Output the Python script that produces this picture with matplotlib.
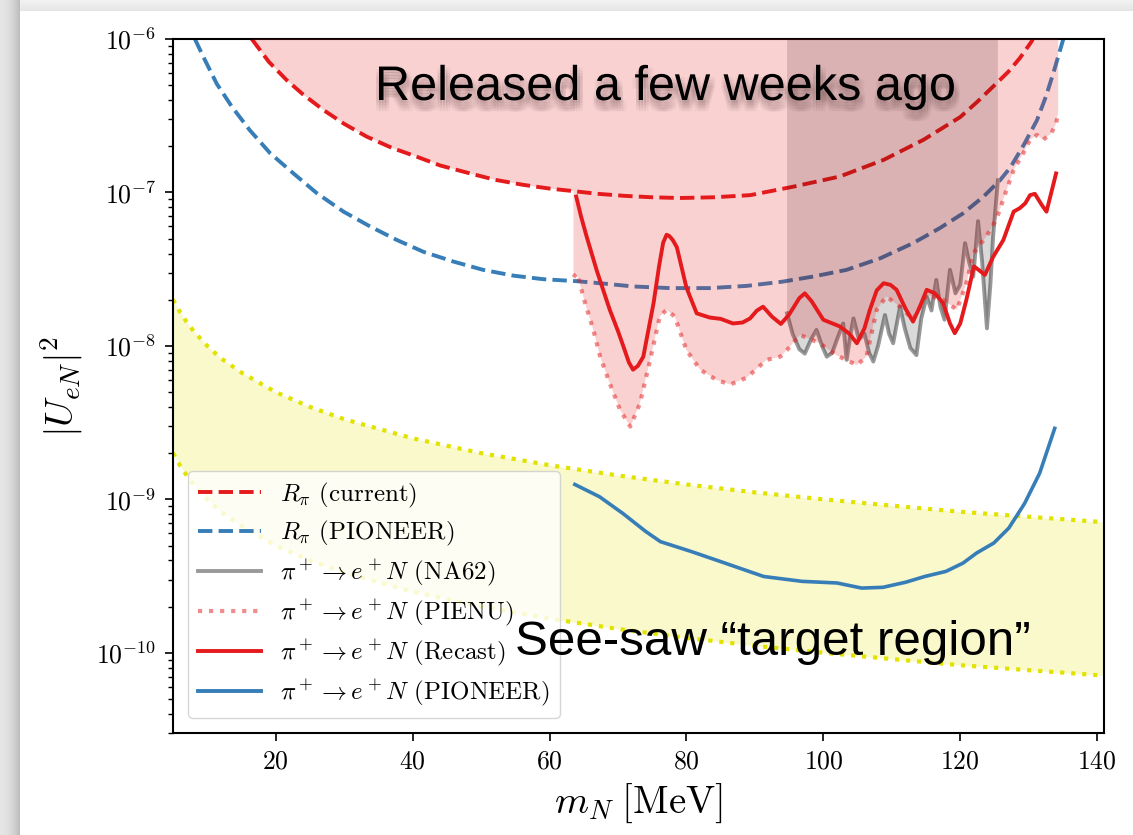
import numpy as np
import matplotlib
matplotlib.use("Agg")
import matplotlib.pyplot as plt
from matplotlib import patheffects as pe
from matplotlib.lines import Line2D

plt.rcParams["mathtext.fontset"] = "cm"
plt.rcParams["font.family"] = "serif"
plt.rcParams["font.serif"] = ["cmr10"]
plt.rcParams["axes.formatter.use_mathtext"] = True

# ---- R_pi (current) ----
rpi_cur_m = [16.5, 19, 21.6, 24, 27, 30, 33.3, 37, 40.6, 44, 48.4, 52, 56.2, 60, 63.5,
             67, 71, 75, 79, 84, 89.3, 95.6, 102.4, 108.8, 114.6, 120, 122.5, 124.8,
             127, 128.7, 130.4, 131.5]
rpi_cur_u2 = [1.0e-6, 7.1e-7, 5.4e-7, 4.35e-7, 3.44e-7, 2.8e-7, 2.31e-7, 1.95e-7, 1.71e-7,
              1.5e-7, 1.33e-7, 1.21e-7, 1.12e-7, 1.06e-7, 1.02e-7, 9.8e-8, 9.5e-8, 9.3e-8,
              9.2e-8, 9.3e-8, 9.6e-8, 1.09e-7, 1.27e-7, 1.63e-7, 2.2e-7, 3.1e-7, 3.9e-7,
              4.9e-7, 6.1e-7, 7.5e-7, 9.6e-7, 1.2e-6]

# ---- R_pi (PIONEER) ----
rpi_pio_m = [8.2, 9.4, 11.4, 13.6, 16.2, 19.2, 22.6, 26.0, 29.9, 33.8, 37.7, 41.6, 46.0,
             50.3, 54.7, 59.1, 64.0, 67.4, 72.2, 77.6, 83.4, 88.8, 94.0, 98.5, 103.4,
             108.3, 113.1, 117.0, 120.4, 123.4, 125.8, 127.3, 129.3, 131.2, 132.5, 133.6, 135.2]
rpi_pio_u2 = [1.0e-6, 7.7e-7, 5.1e-7, 3.62e-7, 2.55e-7, 1.8e-7, 1.33e-7, 9.9e-8, 7.5e-8,
              6.0e-8, 4.9e-8, 4.1e-8, 3.54e-8, 3.13e-8, 2.87e-8, 2.72e-8, 2.64e-8, 2.56e-8,
              2.44e-8, 2.38e-8, 2.38e-8, 2.46e-8, 2.62e-8, 2.83e-8, 3.13e-8, 3.72e-8,
              4.67e-8, 5.85e-8, 7.3e-8, 9.4e-8, 1.2e-7, 1.45e-7, 2.05e-7, 2.95e-7, 4.2e-7,
              6.0e-7, 1.05e-6]

# ---- pi+ -> e+ N (NA62) ----
na62_m = [94.7, 95.5, 96.5, 97.3, 98.2, 99.0, 99.8, 100.5, 101.3, 102.0, 102.9, 103.4,
          104.0, 104.4, 105.2, 106.0, 106.7, 107.3, 108.0, 109.0, 109.6, 110.2, 111.2,
          111.9, 112.7, 113.6, 114.3, 115.1, 115.8, 116.5, 117.1, 117.7, 118.5, 119.3,
          120.0, 120.7, 121.3, 121.9, 122.6, 123.2, 123.9, 124.4, 124.8, 125.5]
na62_u2 = [1.63e-8, 1.2e-8, 9.5e-9, 8.9e-9, 1.1e-8, 1.27e-8, 1.0e-8, 8.5e-9, 9.0e-9,
           1.1e-8, 1.4e-8, 8.1e-9, 1.2e-8, 1.51e-8, 1.1e-8, 1.2e-8, 9.0e-9, 7.9e-9, 1.0e-8,
           1.59e-8, 1.2e-8, 1.04e-8, 1.8e-8, 1.3e-8, 9.7e-9, 8.7e-9, 1.5e-8, 2.1e-8, 1.7e-8,
           2.69e-8, 1.8e-8, 1.48e-8, 3.13e-8, 2.2e-8, 2.5e-8, 4.67e-8, 3.5e-8, 2.83e-8,
           6.5e-8, 3.5e-8, 1.3e-8, 2.5e-8, 5.15e-8, 1.2e-7]

# ---- pi+ -> e+ N (PIENU) ----
pienu_m = [63.5, 64.0, 65.2, 66.4, 67.4, 68.8, 70.3, 71.8, 73.2, 74.7, 76.1, 77.1, 78.3,
           80.0, 82.0, 84.4, 86.4, 88.8, 91.7, 93.7, 94.7, 96.6, 99.5, 101.9, 104.9, 106.3,
           107.8, 109.2, 111.2, 113.1, 115.1, 117.5, 119.5, 120.9, 121.9, 123.8, 125.3,
           126.8, 127.8, 129.2, 130.2, 131.2, 132.1, 133.3, 134.0, 134.3]
pienu_u2 = [2.8e-8, 2.98e-8, 1.9e-8, 1.27e-8, 8.5e-9, 5.7e-9, 3.83e-9, 2.98e-9, 4.2e-9,
            8.1e-9, 1.55e-8, 1.72e-8, 1.55e-8, 9.4e-9, 7.0e-9, 6.0e-9, 5.6e-9, 6.2e-9,
            8.1e-9, 8.5e-9, 9.4e-9, 1.18e-8, 1.04e-8, 8.7e-9, 7.5e-9, 8.5e-9, 1.72e-8,
            2.1e-8, 1.8e-8, 1.48e-8, 2.15e-8, 2.0e-8, 1.72e-8, 2.56e-8, 4.0e-8, 5.15e-8,
            6.7e-8, 1.05e-7, 1.4e-7, 1.8e-7, 2.2e-7, 2.37e-7, 2.2e-7, 2.43e-7, 2.8e-7, 3.3e-7]

# ---- pi+ -> e+ N (Recast) ----
recast_m = [63.9, 64.6, 65.4, 66.9, 68.8, 70.0, 70.8, 71.6, 72.2, 72.9, 73.7, 75.2, 76.0,
            76.6, 77.1, 77.5, 78.0, 78.6, 80.0, 81.5, 83.4, 85.0, 86.8, 88.2, 89.3, 90.3,
            91.2, 92.5, 93.8, 95.0, 96.5, 97.3, 98.3, 100.0, 102.4, 103.8, 104.9, 106.0,
            106.8, 107.8, 108.8, 109.8, 110.7, 112.0, 113.1, 114.1, 115.1, 116.3, 117.5,
            118.5, 119.2, 120.0, 120.9, 122.0, 122.8, 123.6, 124.8, 126.3, 127.8, 128.7,
            129.5, 130.2, 130.9, 131.9, 132.6, 133.4, 134.0]
recast_u2 = [9.4e-8, 7.0e-8, 5.2e-8, 3.1e-8, 1.72e-8, 1.25e-8, 9.9e-9, 7.8e-9, 7.0e-9,
             7.4e-9, 8.5e-9, 1.9e-8, 3.3e-8, 4.7e-8, 5.3e-8, 5.2e-8, 4.9e-8, 4.4e-8, 2.4e-8,
             1.63e-8, 1.53e-8, 1.5e-8, 1.4e-8, 1.42e-8, 1.51e-8, 1.7e-8, 1.8e-8, 1.55e-8,
             1.39e-8, 1.6e-8, 2.05e-8, 2.2e-8, 1.95e-8, 1.48e-8, 1.34e-8, 1.2e-8, 1.04e-8,
             1.3e-8, 1.72e-8, 2.3e-8, 2.56e-8, 2.5e-8, 2.32e-8, 1.75e-8, 1.44e-8, 1.8e-8,
             2.32e-8, 2.2e-8, 1.9e-8, 1.4e-8, 1.21e-8, 1.4e-8, 2.0e-8, 3.3e-8, 3.1e-8,
             2.9e-8, 3.8e-8, 4.9e-8, 7.5e-8, 7.9e-8, 8.5e-8, 9.6e-8, 9.8e-8, 8.3e-8, 7.5e-8,
             1.04e-7, 1.33e-7]

# ---- pi+ -> e+ N (PIONEER) ----
pioneer_m = [63.7, 67.3, 70.7, 74.0, 76.2, 80.7, 85.2, 91.3, 96.9, 102.0, 105.6, 108.7,
             112.0, 114.8, 117.9, 120.4, 122.4, 124.9, 127.1, 129.4, 131.6, 133.8]
pioneer_u2 = [1.25e-9, 1.04e-9, 8.1e-10, 6.2e-10, 5.3e-10, 4.57e-10, 3.9e-10, 3.14e-10,
              2.92e-10, 2.85e-10, 2.64e-10, 2.67e-10, 2.88e-10, 3.14e-10, 3.39e-10,
              3.84e-10, 4.47e-10, 5.19e-10, 6.5e-10, 9.4e-10, 1.48e-9, 2.9e-9]

# ---- see-saw target band ----
seesaw_m = [5, 6, 7, 8, 10, 12, 15, 20, 25, 30, 40, 50, 60, 70, 80, 90, 100, 110, 120, 130, 141]
seesaw_hi = [2.0e-8, 1.67e-8, 1.43e-8, 1.25e-8, 1.0e-8, 8.3e-9, 6.7e-9, 5.0e-9, 4.0e-9,
             3.33e-9, 2.5e-9, 2.0e-9, 1.67e-9, 1.43e-9, 1.25e-9, 1.11e-9, 1.0e-9, 9.1e-10,
             8.3e-10, 7.7e-10, 7.1e-10]
seesaw_lo = [2.0e-9, 1.67e-9, 1.43e-9, 1.25e-9, 1.0e-9, 8.3e-10, 6.7e-10, 5.0e-10, 4.0e-10,
             3.33e-10, 2.5e-10, 2.0e-10, 1.67e-10, 1.43e-10, 1.25e-10, 1.11e-10, 1.0e-10,
             9.1e-11, 8.3e-11, 7.7e-11, 7.1e-11]

RED = "#e41a1c"
BLUE = "#377eb8"
GREY = "#999999"
YELLOW = "#e2e200"

W, H = 1133, 835
fig = plt.figure(figsize=(W / 100, H / 100), dpi=100)

# slide card with soft shadow on the left and top, painted straight onto the canvas
card = np.ones((H, W))
cols = np.arange(20)
card[:, :20] = 0.90 - 0.16 * (cols / 19.0) ** 2
rows = np.arange(11)
card[:11, 20:] = np.minimum(card[:11, 20:], (0.95 - 0.05 * (rows / 10.0))[:, None])
card[:11, :20] = np.minimum(card[:11, :20], 0.90)
card_rgb = np.dstack([card, card, card])
fig.figimage(card_rgb, xo=0, yo=0, origin="upper", zorder=-10)

ax = fig.add_axes([173 / W, 1 - 733 / H, (1104 - 173) / W, (733 - 39) / H])
ax.set_facecolor("white")
ax.set_yscale("log")
TOP = 1.0

# see-saw band
ax.fill_between(seesaw_m, seesaw_lo, seesaw_hi, color=YELLOW, alpha=0.2, lw=0, zorder=1)
ax.plot(seesaw_m, seesaw_hi, ls=":", color=YELLOW, lw=3, zorder=1.5)
ax.plot(seesaw_m, seesaw_lo, ls=":", color=YELLOW, lw=3, zorder=1.5)

# R_pi constraints
ax.plot(rpi_cur_m, rpi_cur_u2, ls="--", color=RED, lw=2.8, zorder=2)
ax.plot(rpi_pio_m, rpi_pio_u2, ls="--", color=BLUE, lw=2.8, zorder=2)

# NA62 limit and its excluded region
ax.plot(na62_m, na62_u2, color=GREY, lw=2.8, zorder=2.5)
ax.fill_between(na62_m, na62_u2, TOP, color="k", alpha=0.15, lw=0, zorder=2.6)

# excluded region: R_pi (current) joined with PIENU (vertical step where PIENU begins)
rc_m = np.array(rpi_cur_m)
rc_u = np.array(rpi_cur_u2)
left = rc_m <= pienu_m[0]
excl_m = np.concatenate([rc_m[left], pienu_m])
excl_u = np.concatenate([rc_u[left], pienu_u2])
ax.fill_between(excl_m, excl_u, TOP, color=RED, alpha=0.2, lw=0, zorder=3)

ax.plot(pienu_m, pienu_u2, ls=":", color=RED, alpha=0.5, lw=3, zorder=3.5)
ax.plot(recast_m, recast_u2, color=RED, lw=2.8, zorder=4, solid_joinstyle="round")
ax.plot(pioneer_m, pioneer_u2, color=BLUE, lw=2.6, zorder=4)

ax.set_xlim(5, 141)
ax.set_ylim(3e-11, 1e-6)
ax.set_xticks([20, 40, 60, 80, 100, 120, 140])
ax.tick_params(axis="both", which="major", direction="out", length=6, width=1.2,
               labelsize=18.5, pad=6)
ax.tick_params(axis="both", which="minor", direction="out", length=3.5, width=1.0)
for s in ax.spines.values():
    s.set_linewidth(1.5)

ax.set_xlabel(r"$m_N\;[\mathrm{MeV}]$", fontsize=28, labelpad=6)
ax.set_ylabel(r"$|U_{eN}|^2$", fontsize=28, labelpad=8)

handles = [
    Line2D([], [], ls="--", color=RED, lw=2.8),
    Line2D([], [], ls="--", color=BLUE, lw=2.8),
    Line2D([], [], color=GREY, lw=2.8),
    Line2D([], [], ls=":", color=RED, alpha=0.5, lw=3),
    Line2D([], [], color=RED, lw=2.8),
    Line2D([], [], color=BLUE, lw=2.8),
]
labels = [
    r"$R_\pi$ (current)",
    r"$R_\pi$ (PIONEER)",
    r"$\pi^+ \to e^+ N$ (NA62)",
    r"$\pi^+ \to e^+ N$ (PIENU)",
    r"$\pi^+ \to e^+ N$ (Recast)",
    r"$\pi^+ \to e^+ N$ (PIONEER)",
]
leg = ax.legend(handles, labels, loc="lower left", fontsize=18, handlelength=2.5,
                labelspacing=0.38, borderaxespad=0.6, framealpha=0.8, edgecolor="0.8")
leg.set_zorder(6)

# slide annotations
shadow = []
for dx in (-2, 0, 2, 4):
    for dy in (-8, -6, -4, -2):
        shadow.append(pe.SimplePatchShadow(offset=(dx, dy), shadow_rgbFace="#3a2020",
                                           alpha=0.035))
shadow.append(pe.Normal())
fig.text(375 / W, 1 - 100 / H, "Released a few weeks ago", family="Liberation Sans",
         fontsize=35, color="black", ha="left", va="baseline", zorder=20,
         path_effects=shadow)
fig.text(515 / W, 1 - 655 / H, "See-saw \u201ctarget region\u201d", family="Liberation Sans",
         fontsize=35.5, color="black", ha="left", va="baseline", zorder=20)

fig.savefig("out.png", dpi=100)
